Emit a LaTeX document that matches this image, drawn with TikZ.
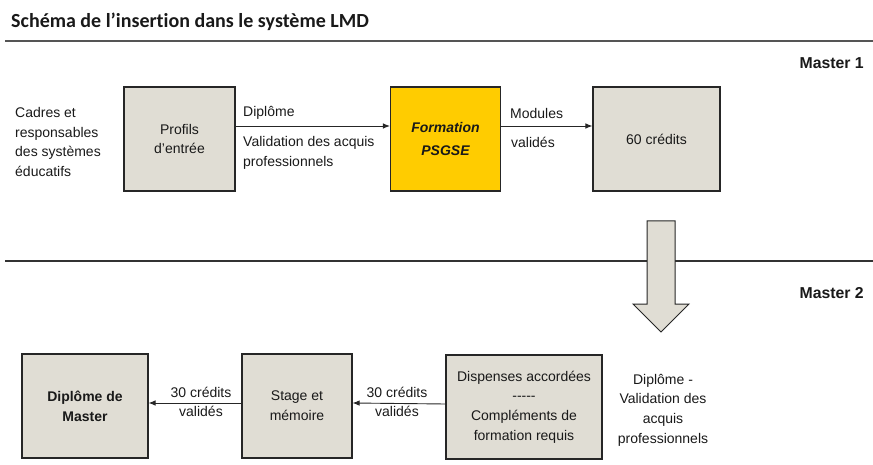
\documentclass[tikz,border=0pt]{standalone}
\usepackage{fontspec}
\setmainfont{Liberation Sans}
\newfontfamily\titlefont[Ligatures=NoCommon]{Carlito}
\usetikzlibrary{arrows.meta}

\definecolor{boxgrey}{RGB}{224,221,212}
\definecolor{psgse}{RGB}{255,204,0}
\definecolor{rulegrey}{RGB}{85,85,85}

\begin{document}
\begin{tikzpicture}[x=1pt,y=-1pt,
  every node/.style={font=\fontsize{14}{19.7}\selectfont,text=black!90},
  box/.style={draw=black!85,line width=1.1pt,fill=boxgrey,minimum height=104pt,align=center,inner sep=0pt},
  lbl/.style={anchor=west,align=left,inner sep=0pt},
  level/.style={anchor=east,inner sep=0pt,font=\bfseries\fontsize{15.8}{18}\selectfont},
  link/.style={-{Latex[length=7pt,width=5.5pt]},line width=0.9pt,draw=black!85}]
\useasboundingbox (0,0) rectangle (873,465);

% Title and section rules
\node[anchor=base west,inner sep=0pt,font=\titlefont\bfseries\fontsize{20}{22}\selectfont] (title) at (11,28) {Schéma de l’insertion dans le système LMD};
\draw[rulegrey,line width=1.8pt] (5,41) -- (873,41);
\draw[black!80,line width=1.3pt] (5,261) -- (873,261);

\node[level] (m1) at (864,63) {Master 1};
\node[level] (m2) at (864,293) {Master 2};

% Master 1 row
\node[lbl] (public) at (15,142) {Cadres et\\responsables\\des systèmes\\éducatifs};
\node[box,minimum width=111pt] (profils) at (179.5,139) {Profils\\d’entrée};
\node[box,minimum width=110pt,fill=psgse,font=\bfseries\itshape\fontsize{14}{23}\selectfont] (formation) at (445.5,139) {Formation\\PSGSE};
\node[box,minimum width=127pt] (credits) at (656.5,139) {60 crédits};

\draw[link] ([yshift=13pt]profils.east) -- ([yshift=13pt]formation.west);
\draw[link] ([yshift=13pt]formation.east) -- ([yshift=13pt]credits.west);

\node[lbl] (diplome) at (243,113) {Diplôme};
\node[lbl] (vae) at (243,153) {Validation des acquis\\professionnels};
\node[lbl] (modules) at (510,113) {Modules};
\node[lbl] (valides) at (511,142) {validés};

% Passage to Master 2
\draw[fill=boxgrey,draw=black!85,line width=1pt] (647,221) -- (675,221) -- (675,304) -- (689,304)
  -- (661,332) -- (633,304) -- (647,304) -- cycle;

% Master 2 row
\node[box,minimum width=126pt,font=\bfseries\fontsize{14}{19.7}\selectfont] (master) at (85,406) {Diplôme de\\Master};
\node[box,minimum width=110pt] (stage) at (297,406) {Stage et\\mémoire};
\node[box,minimum width=156pt] (dispenses) at (524,407) {Dispenses accordées\\-{}-{}-{}-{}-\\Compléments de\\formation requis};

\draw[link] ([yshift=3pt]dispenses.west) -- ([yshift=3pt]stage.east);
\draw[link] ([yshift=3pt]stage.west) -- ([yshift=3pt]master.east);

\node[align=center,inner sep=0pt] (cr1) at (201,402) {30 crédits\\validés};
\node[align=center,inner sep=0pt] (cr2) at (397,402) {30 crédits\\validés};
\node[align=center,inner sep=0pt] (acces) at (663,410) {Diplôme -\\Validation des\\acquis\\professionnels};
\end{tikzpicture}
\end{document}
